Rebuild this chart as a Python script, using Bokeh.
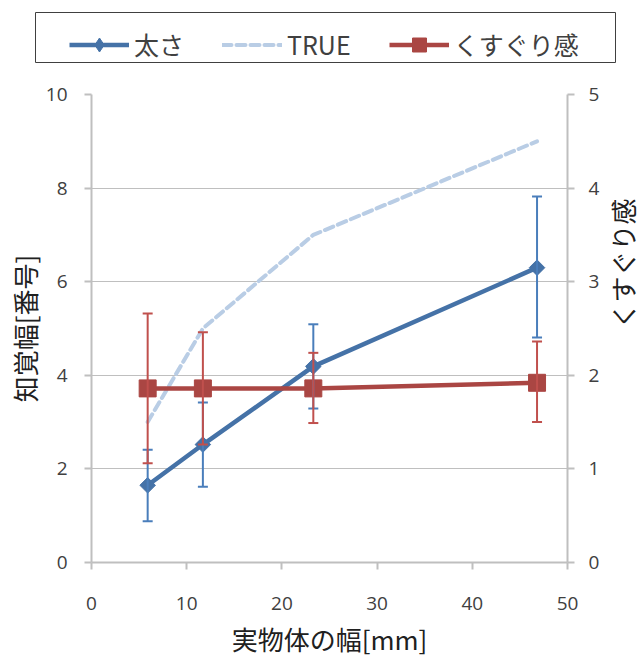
import math
from bokeh.plotting import figure
from bokeh.layouts import column
from bokeh.models import (Range1d, LinearAxis, ColumnDataSource, Whisker, TeeHead,
                          Legend, LegendItem, FixedTicker)
from bokeh.embed import file_html
from bokeh.resources import INLINE

# ---- data ----
width_mm = [5.9, 11.7, 23.3, 46.8]
futosa = [1.65, 2.52, 4.19, 6.30]
futosa_lo = [0.88, 1.62, 3.29, 4.81]
futosa_hi = [2.41, 3.42, 5.09, 7.82]
true_vals = [3.0, 5.0, 7.0, 9.0]
kusuguri = [1.86, 1.86, 1.86, 1.92]
kusuguri_lo = [1.06, 1.26, 1.49, 1.50]
kusuguri_hi = [2.66, 2.46, 2.24, 2.36]
x_ticks = [0, 10, 20, 30, 40, 50]
left_ticks = [0, 2, 4, 6, 8, 10]
right_ticks = [0, 1, 2, 3, 4, 5]
series_names = ["太さ", "TRUE", "くすぐり感"]

BLUE = "#4572A7"
BLUE_ERR = "#4A7EBB"
RED = "#AA4643"
RED_ERR = "#C0504D"
LIGHT = "#B9CDE5"
AXIS = "#BFBFBF"
TXT = "#404040"
FONT = "Open Sans"
JFONT = "Noto Sans CJK JP"

p = figure(frame_width=476, frame_height=468, output_backend="svg", toolbar_location=None,
           x_range=Range1d(0, 50), y_range=Range1d(0, 10))
p.min_border_left = 91
p.min_border_right = 76
p.min_border_top = 24
p.min_border_bottom = 97
p.outline_line_color = None
p.background_fill_color = "white"
p.border_fill_color = "white"
p.extra_y_ranges = {"right": Range1d(0, 5)}

def style_axis(ax, standoff):
    ax.axis_line_color = AXIS
    ax.axis_line_width = 2
    ax.major_tick_line_color = AXIS
    ax.major_tick_line_width = 2
    ax.major_tick_in = 0
    ax.major_tick_out = 7
    ax.minor_tick_line_color = None
    ax.major_label_text_font = FONT
    ax.major_label_text_font_size = "19px"
    ax.major_label_text_color = TXT
    ax.major_label_standoff = standoff
    ax.axis_label_text_font = JFONT
    ax.axis_label_text_font_size = "26px"
    ax.axis_label_text_font_style = "normal"
    ax.axis_label_text_color = "#202020"

p.xaxis.ticker = FixedTicker(ticks=x_ticks)
p.yaxis.ticker = FixedTicker(ticks=left_ticks)
style_axis(p.xaxis[0], 27)
style_axis(p.yaxis[0], 17)
p.yaxis.axis_label = "知覚幅[番号]"
p.yaxis.axis_label_standoff = 0
p.xaxis.axis_label = "実物体の幅[mm]"
p.xaxis.axis_label_text_font_size = "26px"
p.xaxis.axis_label_standoff = 7

raxis = LinearAxis(y_range_name="right", ticker=FixedTicker(ticks=right_ticks))
style_axis(raxis, 14)
raxis.axis_label = "くすぐり感"
raxis.axis_label_standoff = 20
if "axis_label_orientation" in raxis.properties():
    raxis.axis_label_orientation = math.pi / 2
p.add_layout(raxis, "right")

p.xgrid.grid_line_color = None
p.ygrid.grid_line_color = "#7F7F7F"
p.ygrid.grid_line_dash = "1 1"
p.ygrid.grid_line_width = 1

src_b = ColumnDataSource(dict(x=width_mm, y=futosa, lo=futosa_lo, hi=futosa_hi))
src_r = ColumnDataSource(dict(x=width_mm, y=kusuguri, lo=kusuguri_lo, hi=kusuguri_hi))
src_t = ColumnDataSource(dict(x=width_mm, y=true_vals))

wb = Whisker(source=src_b, base="x", lower="lo", upper="hi", dimension="height",
             line_color=BLUE_ERR, line_width=2, level="glyph",
             upper_head=TeeHead(size=10, line_color=BLUE_ERR, line_width=2),
             lower_head=TeeHead(size=10, line_color=BLUE_ERR, line_width=2))
p.add_layout(wb)
p.line("x", "y", source=src_b, line_color=BLUE, line_width=4.5)
p.scatter("x", "y", source=src_b, marker="square", angle=math.pi / 4, size=11,
          fill_color=BLUE, line_color=BLUE)
p.line("x", "y", source=src_t, line_color=LIGHT, line_width=4, line_dash="9 5", line_cap="round")

wr = Whisker(source=src_r, base="x", lower="lo", upper="hi", dimension="height",
             y_range_name="right", line_color=RED_ERR, line_width=2, level="glyph",
             upper_head=TeeHead(size=10, line_color=RED_ERR, line_width=2),
             lower_head=TeeHead(size=10, line_color=RED_ERR, line_width=2))
p.add_layout(wr)
p.line("x", "y", source=src_r, y_range_name="right", line_color=RED, line_width=4.5)
p.scatter("x", "y", source=src_r, y_range_name="right", marker="square", size=17,
          fill_color=RED, line_color=RED)

# ---- legend strip on top (its frame outline is the legend box) ----
lg = figure(frame_width=580, frame_height=50, output_backend="svg", toolbar_location=None,
            x_range=Range1d(0, 1), y_range=Range1d(0, 1),
            x_axis_location=None, y_axis_location=None)
lg.min_border_left = 35
lg.min_border_right = 28
lg.min_border_top = 12
lg.min_border_bottom = 8
lg.outline_line_color = "#404040"
lg.outline_line_width = 1
lg.grid.grid_line_color = None
lg.background_fill_color = "white"
lg.border_fill_color = "white"
for fig in (lg, p):
    if "frame_align" in fig.properties():
        fig.frame_align = False
e = ColumnDataSource(dict(x=[-5, -4], y=[-5, -4]))
lb = lg.line("x", "y", source=e, line_color=BLUE, line_width=4.5)
sb = lg.scatter("x", "y", source=e, marker="diamond", size=20, fill_color=BLUE, line_color=BLUE)
lt = lg.line("x", "y", source=e, line_color=LIGHT, line_width=4, line_dash="9 5", line_cap="round")
lr = lg.line("x", "y", source=e, line_color=RED, line_width=4.5)
sr = lg.scatter("x", "y", source=e, marker="square", size=17, fill_color=RED, line_color=RED)

legend = Legend(items=[LegendItem(label=series_names[0], renderers=[lb, sb]),
                       LegendItem(label=series_names[1], renderers=[lt]),
                       LegendItem(label=series_names[2], renderers=[lr, sr])],
                orientation="horizontal", location=(34, 0))
legend.label_text_font = JFONT
legend.label_text_font_size = "25px"
legend.label_text_color = TXT
legend.glyph_width = 60
legend.glyph_height = 35
legend.label_standoff = 5
legend.spacing = 38
legend.padding = 7
legend.margin = 0
legend.border_line_color = None
legend.background_fill_alpha = 0
lg.add_layout(legend, "center")

layout = column(lg, p, spacing=0)
open("out.html", "w").write(file_html(layout, INLINE))
